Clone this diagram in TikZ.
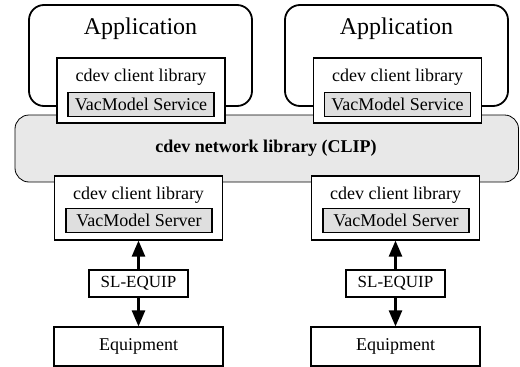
\documentclass[tikz,border=0pt]{standalone}
\usepackage{fontspec}
\setmainfont{Liberation Serif}
\usepackage{tikz}
\usetikzlibrary{arrows.meta,positioning}

\begin{document}
\begin{tikzpicture}[
  x=1pt, y=-1pt,
  appbox/.style={rectangle, draw, line width=1.8pt, rounded corners=15pt, fill=white, minimum width=223pt, minimum height=101pt},
  libbox/.style={rectangle, draw, line width=1.1pt, fill=white, minimum width=168pt, minimum height=65pt},
  modbox/.style={rectangle, draw, line width=1.1pt, fill=gray!25, minimum width=146pt, minimum height=24pt, inner sep=0pt, font=\fontsize{18}{20}\selectfont},
  plainbox/.style={rectangle, draw, line width=1.1pt, fill=white, inner sep=0pt, font=\fontsize{18}{20}\selectfont},
  txt/.style={inner sep=0pt, font=\fontsize{18}{20}\selectfont},
  arrow/.style={-{Triangle[length=16pt,width=13pt]}, line width=2.4pt}
]
\useasboundingbox (0,0) rectangle (520,367);

% applications
\node[appbox] (appL) at (140.5,55.5) {};
\node[appbox] (appR) at (396.5,55.5) {};
\node[inner sep=0pt, font=\fontsize{24}{27}\selectfont] (appLtxt) at (140.5,29) {Application};
\node[inner sep=0pt, font=\fontsize{24}{27}\selectfont] (appRtxt) at (396.5,29) {Application};

% network layer
\node[rectangle, draw, line width=0.8pt, rounded corners=14pt, fill=gray!18, minimum width=503.5pt, minimum height=67pt] (net) at (266.75,148.5) {};
\node[txt, font=\fontsize{18}{20}\selectfont\bfseries] (nettxt) at (266,148) {cdev network library (CLIP)};

% client side
\node[libbox] (cliTL) at (141,90.5) {};
\node[libbox] (cliTR) at (397.5,90.5) {};
\node[txt] (libTL) at (141,77) {cdev client library};
\node[txt] (libTR) at (397.5,77) {cdev client library};
\node[modbox] (svcL) at (141,104.5) {VacModel Service};
\node[modbox] (svcR) at (397.5,104.5) {VacModel Service};

% server side
\node[libbox, minimum height=64pt] (cliBL) at (138.5,208) {};
\node[libbox, minimum height=64pt] (cliBR) at (395.5,208) {};
\node[txt] (libBL) at (138.5,195) {cdev client library};
\node[txt] (libBR) at (395.5,195) {cdev client library};
\node[modbox] (srvL) at (139,220.5) {VacModel Server};
\node[modbox] (srvR) at (396,220.5) {VacModel Server};

% equipment access
\node[plainbox, minimum width=99pt, minimum height=27pt, font=\fontsize{17}{20}\selectfont] (slL) at (138.5,283.5) {SL-EQUIP};
\node[plainbox, minimum width=99pt, minimum height=27pt, font=\fontsize{17}{20}\selectfont] (slR) at (395.5,283.5) {SL-EQUIP};
\node[plainbox, minimum width=169pt, minimum height=39pt] (eqL) at (138.5,346.5) {Equipment};
\node[plainbox, minimum width=169pt, minimum height=39pt] (eqR) at (395.5,346.5) {Equipment};

\draw[arrow] (slL) -- (cliBL);
\draw[arrow] (slL) -- (eqL);
\draw[arrow] (slR) -- (cliBR);
\draw[arrow] (slR) -- (eqR);
\end{tikzpicture}
\end{document}
